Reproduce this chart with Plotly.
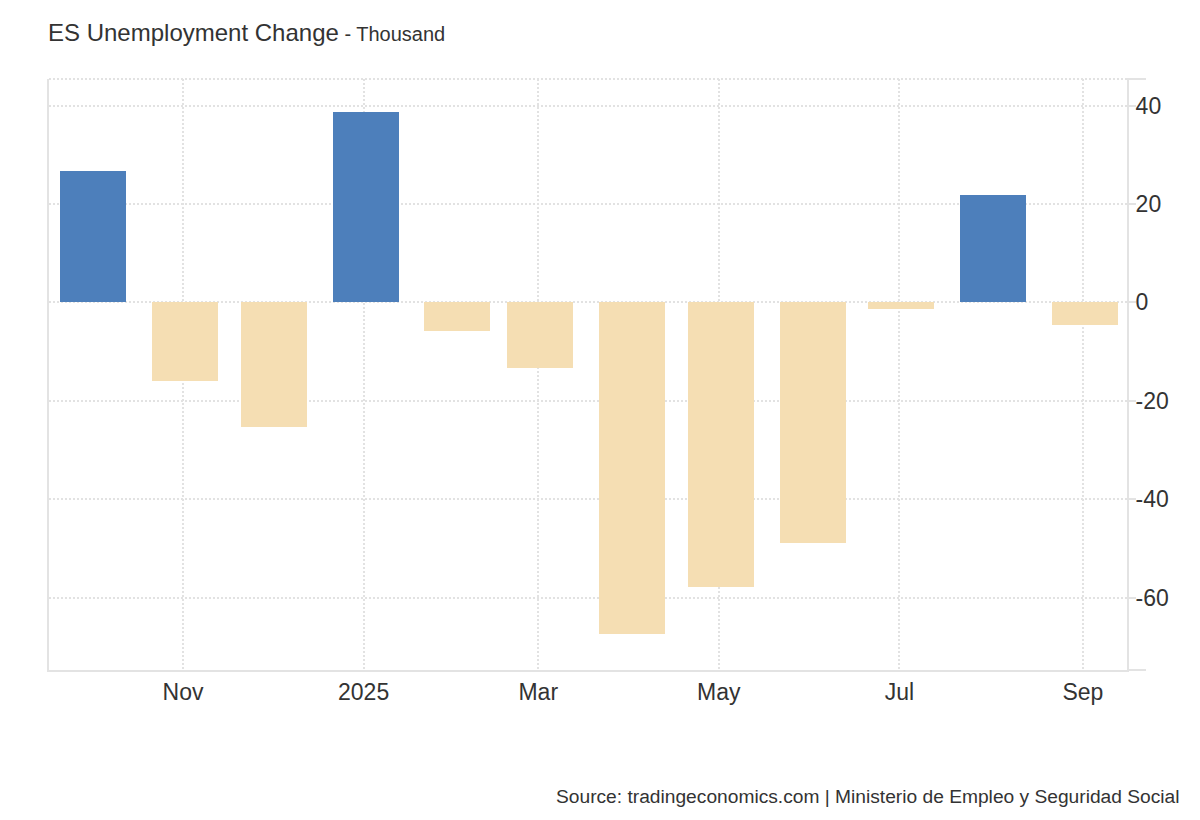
import plotly.graph_objects as go

months = ["2024-10-01", "2024-11-01", "2024-12-01", "2025-01-01", "2025-02-01", "2025-03-01",
          "2025-04-01", "2025-05-01", "2025-06-01", "2025-07-01", "2025-08-01", "2025-09-01"]
values = [26.8, -16.0, -25.3, 38.7, -5.9, -13.3, -67.4, -57.8, -48.9, -1.4, 21.9, -4.6]
tick_dates = ["2024-11-01", "2025-01-01", "2025-03-01", "2025-05-01", "2025-07-01", "2025-09-01"]
tick_labels = ["Nov", "2025", "Mar", "May", "Jul", "Sep"]
y_ticks = [-60, -40, -20, 0, 20, 40]
y_tick_labels = ["-60", "-40", "-20", "0", "20", "40"]

BLUE = "#4d7fbb"
TAN = "#f5deb3"
AXIS = "#e3e3e3"
GRID = "#e2e2e2"
TEXT = "#333333"
FONT = "Liberation Sans, Arial, sans-serif"
DAY = 86400000
DASH = "2px,2px"

colors = [BLUE if v >= 0 else TAN for v in values]

fig = go.Figure(go.Bar(
    x=months, y=values, marker=dict(color=colors, line=dict(width=0)),
    width=[22.3 * DAY] * len(values),
    offset=[-10.45 * DAY] * len(values),
    hoverinfo="skip",
))

fig.update_layout(
    width=1200, height=820,
    margin=dict(l=49, r=73, t=79, b=150),
    paper_bgcolor="white", plot_bgcolor="white",
    font=dict(family=FONT, color=TEXT, size=22),
    showlegend=False,
    bargap=0,
    xaxis=dict(
        type="date", range=["2024-09-16 17:00", "2025-09-15 22:00"],
        tickvals=tick_dates, ticktext=tick_labels,
        showgrid=True, gridcolor=GRID, griddash=DASH, gridwidth=2,
        showline=True, linecolor=AXIS, linewidth=2,
        ticks="", tickfont=dict(size=23, color=TEXT),
        zeroline=False,
    ),
    yaxis=dict(
        side="right", range=[-74.7, 45.4], tickvals=y_ticks, ticktext=y_tick_labels,
        showgrid=True, gridcolor=GRID, griddash=DASH, gridwidth=2,
        showline=True, linecolor=AXIS, linewidth=2, mirror=True,
        ticks="outside", ticklen=7, tickcolor=AXIS, tickwidth=2,
        ticklabelstandoff=-5,
        tickfont=dict(size=23, color=TEXT), zeroline=False,
    ),
    shapes=[
        dict(type="line", xref="paper", yref="paper", x0=0, x1=1, y0=1, y1=1,
             line=dict(color=GRID, width=2, dash=DASH)),
        dict(type="line", xref="paper", yref="paper", x0=1, x1=1.0176, y0=1, y1=1,
             line=dict(color=AXIS, width=2)),
        dict(type="line", xref="paper", yref="paper", x0=1, x1=1.0176, y0=0, y1=0,
             line=dict(color=AXIS, width=2)),
    ],
    annotations=[
        dict(xref="paper", yref="paper", x=0, y=1, xanchor="left", yanchor="middle",
             yshift=47, xshift=-3, showarrow=False, align="left",
             text="<span style='font-size:24px'>ES Unemployment Change</span>"
                  "<span style='font-size:20px'> - Thousand</span>",
             font=dict(family=FONT, color=TEXT)),
        dict(xref="paper", yref="paper", x=1, y=0, xanchor="right", yanchor="middle",
             xshift=55, yshift=-126, showarrow=False,
             text="Source: tradingeconomics.com | Ministerio de Empleo y Seguridad Social",
             font=dict(family=FONT, color=TEXT, size=19.2)),
    ],
)

fig.write_html("out.html", config={"displayModeBar": False},
               post_script="document.body.style.margin='0';")
